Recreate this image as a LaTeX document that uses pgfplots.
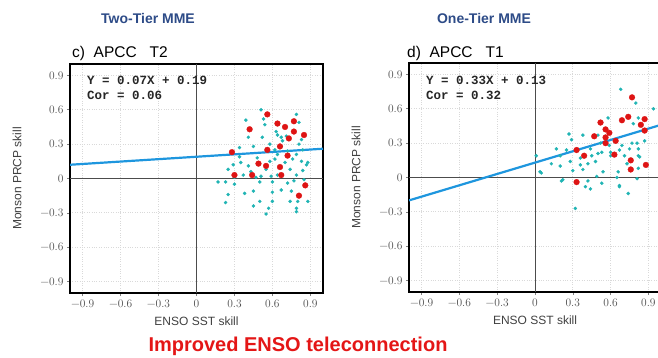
\documentclass[border=0pt]{standalone}
\usepackage[no-math]{fontspec}
\setmainfont{Liberation Sans}
\newfontfamily\eqfont{Liberation Mono}
\newfontfamily\lmfont{Latin Modern Roman}
\usepackage{pgfplots}
\pgfplotsset{compat=1.18}
\definecolor{cy}{RGB}{32,180,180}
\definecolor{rd}{RGB}{222,20,20}
\definecolor{ln}{RGB}{30,150,222}
\definecolor{navy}{RGB}{45,75,135}
\definecolor{imp}{RGB}{228,22,22}
\pgfplotsset{panel/.style={
  scale only axis, height=229pt, anchor=north west,
  xmin=-1, xmax=1, ymin=-1, ymax=1,
  xtick={-0.9,-0.6,-0.3,0,0.3,0.6,0.9},
  ytick={-0.9,-0.6,-0.3,0,0.3,0.6,0.9},
  xticklabels={−0.9,−0.6,−0.3,0,0.3,0.6,0.9},
  yticklabels={−0.9,−0.6,−0.3,0,0.3,0.6,0.9},
  grid=major, major grid style={dotted, gray!30, line width=0.7pt},
  tick align=outside, xtick pos=left, ytick pos=left,
  major tick length=3pt,
  tick style={gray, line width=0.6pt},
  axis line style={black, line width=1.3pt},
  ticklabel style={font=\lmfont\fontsize{11.5}{13}\selectfont, text=black!70},
  xlabel={ENSO SST skill}, ylabel={Monson PRCP skill},
  label style={font=\fontsize{12}{14}\selectfont, text=black!75},
  xlabel shift=3pt, ylabel shift=12pt,
}}
\pgfplotsset{
  cyanpts/.style={only marks, mark=*, mark size=1.6pt, color=cy, mark options={draw=cy, fill=cy, line width=0.3pt}},
  redpts/.style={only marks, mark=*, mark size=2.9pt, color=rd, mark options={draw=rd, fill=rd, line width=0.3pt}},
}
\begin{document}
\begin{tikzpicture}
% left panel
\begin{axis}[panel, width=253pt, at={(70pt,-64pt)}]
\draw[black!70, line width=0.9pt] (axis cs:0,-1) -- (axis cs:0,1);
\draw[black!70, line width=0.9pt] (axis cs:-1,0) -- (axis cs:1,0);
\addplot[cyanpts] coordinates {
(0.51,0.60)(0.53,0.52)(0.39,0.51)(0.54,0.47)(0.52,0.36)(0.41,0.36)(0.45,0.28)(0.34,0.27)
(0.63,0.41)(0.67,0.36)(0.64,0.38)(0.71,0.37)(0.68,0.33)(0.83,0.34)(0.58,0.30)(0.62,0.25)
(0.81,0.30)(0.84,0.25)(0.34,0.19)(0.48,0.18)(0.64,0.21)(0.79,0.21)(0.29,0.12)(0.35,0.14)
(0.41,0.11)(0.43,0.06)(0.58,0.15)(0.62,0.17)(0.70,0.14)(0.76,0.17)(0.83,0.15)(0.88,0.14)
(0.37,0.03)(0.51,0.02)(0.59,0.02)(0.64,0.03)(0.79,0.03)(0.74,0.08)(0.23,-0.03)(0.30,-0.05)
(0.50,-0.03)(0.60,-0.03)(0.72,-0.04)(0.77,-0.02)(0.85,-0.01)(0.25,-0.14)(0.38,-0.13)(0.45,-0.11)
(0.60,-0.12)(0.67,-0.10)(0.75,-0.11)(0.23,-0.21)(0.50,-0.20)(0.60,-0.20)(0.74,-0.20)(0.80,-0.20)
(0.88,-0.20)(0.57,-0.26)(0.45,-0.24)(0.79,-0.26)(0.79,-0.29)(0.55,-0.31)(0.30,0.01)(0.47,0.01)
(0.55,0.08)(0.84,0.07)(0.81,0.49)(0.79,0.56)(0.87,0.12)(0.72,0.24)(0.17,-0.03)(0.25,0.08)
};
\addplot[ln, line width=2.2pt] coordinates {(-1,0.12) (1,0.26)};
\addplot[redpts] coordinates {
(0.56,0.56)(0.42,0.43)(0.64,0.48)(0.70,0.45)(0.77,0.50)(0.77,0.41)(0.85,0.38)(0.73,0.35)
(0.66,0.28)(0.56,0.25)(0.28,0.23)(0.72,0.20)(0.49,0.13)(0.55,0.11)(0.66,0.10)(0.30,0.03)
(0.44,0.03)(0.67,0.03)(0.86,-0.06)(0.81,-0.15)
};
\end{axis}
% right panel
\begin{axis}[panel, width=252pt, at={(409pt,-63pt)}]
\draw[black!70, line width=0.9pt] (axis cs:0,-1) -- (axis cs:0,1);
\draw[black!70, line width=0.9pt] (axis cs:-1,0) -- (axis cs:1,0);
\addplot[cyanpts] coordinates {
(0.68,0.77)(0.80,0.65)(0.58,0.52)(0.82,0.52)(0.94,0.60)(0.78,0.47)(0.27,0.38)(0.38,0.37)
(0.50,0.37)(0.29,0.33)(0.52,0.30)(0.59,0.28)(0.69,0.28)(0.77,0.30)(0.81,0.30)(0.17,0.25)
(0.25,0.24)(0.44,0.25)(0.53,0.22)(0.60,0.22)(0.67,0.24)(0.75,0.25)(0.82,0.25)(0.01,0.19)
(0.20,0.19)(0.36,0.17)(0.45,0.19)(0.50,0.21)(0.60,0.19)(0.71,0.19)(0.82,0.19)(0.13,0.12)
(0.28,0.14)(0.36,0.11)(0.42,0.12)(0.48,0.14)(0.73,0.12)(0.04,0.05)(0.20,0.10)(0.30,0.06)
(0.38,0.07)(0.54,0.05)(0.66,0.05)(0.82,0.08)(0.49,0.01)(0.21,-0.03)(0.42,-0.03)(0.40,-0.08)
(0.44,-0.10)(0.53,-0.05)(0.67,-0.08)(0.74,-0.14)(0.32,-0.27)(0.81,-0.01)(0.65,0.00)(0.87,0.32)
(0.83,0.18)(0.05,0.04)(0.22,-0.02)(0.67,-0.07)
};
\addplot[ln, line width=2.2pt] coordinates {(-1,-0.20) (1,0.46)};
\addplot[redpts] coordinates {
(0.77,0.70)(0.52,0.48)(0.69,0.50)(0.74,0.53)(0.87,0.51)(0.84,0.46)(0.56,0.42)(0.59,0.39)
(0.47,0.36)(0.56,0.35)(0.87,0.41)(0.64,0.32)(0.33,0.24)(0.63,0.20)(0.39,0.19)(0.76,0.15)
(0.76,0.07)(0.88,0.11)(0.33,-0.04)(0.56,0.30)
};
\end{axis}
% texts
\node[font=\bfseries\fontsize{14}{16}\selectfont, text=navy] at (148pt,-18pt) {Two-Tier MME};
\node[font=\bfseries\fontsize{14}{16}\selectfont, text=navy] at (484pt,-18pt) {One-Tier MME};
\node[anchor=west, font=\fontsize{15.5}{17}\selectfont, inner sep=0pt] at (72pt,-53pt) {c)\ \ APCC\ \ \ T2};
\node[anchor=west, font=\fontsize{15.5}{17}\selectfont, inner sep=0pt] at (407pt,-53pt) {d)\ \ APCC\ \ \ T1};
\node[anchor=west, font=\eqfont\bfseries\fontsize{12.5}{14}\selectfont, inner sep=0pt, text=black!85] at (87pt,-80pt) {Y = 0.07X + 0.19};
\node[anchor=west, font=\eqfont\bfseries\fontsize{12.5}{14}\selectfont, inner sep=0pt, text=black!85] at (87pt,-95pt) {Cor = 0.06};
\node[anchor=west, font=\eqfont\bfseries\fontsize{12.5}{14}\selectfont, inner sep=0pt, text=black!85] at (426pt,-80pt) {Y = 0.33X + 0.13};
\node[anchor=west, font=\eqfont\bfseries\fontsize{12.5}{14}\selectfont, inner sep=0pt, text=black!85] at (426pt,-95pt) {Cor = 0.32};
\node[font=\bfseries\fontsize{20}{22}\selectfont, text=imp] at (298pt,-346pt) {Improved ENSO teleconnection};
\pgfresetboundingbox
\useasboundingbox (0,0) rectangle (658pt,-358pt);
\end{tikzpicture}
\end{document}
